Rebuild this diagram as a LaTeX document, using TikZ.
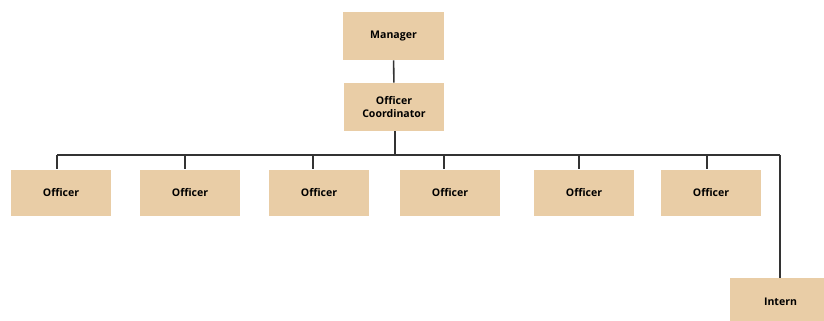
\documentclass[tikz,border=0pt]{standalone}
\usepackage{fontspec}
\setmainfont{Open Sans}
\definecolor{boxtan}{HTML}{E9CDA6}
\definecolor{linkgray}{HTML}{333333}
\begin{document}
\begin{tikzpicture}[
    x=0.025cm, y=-0.025cm,
    role/.style={rectangle, fill=boxtan, minimum width=2.5cm,
                 minimum height=1.2cm, align=center, inner sep=2pt,
                 font=\fontsize{7.5}{9}\selectfont\bfseries},
    officer/.style={role, minimum height=1.17cm},
    link/.style={draw=linkgray, line width=1.1pt}
]
\useasboundingbox (0,0) rectangle (824,321);
\clip (0,0) rectangle (824,321);

% Rollen
\node[role] (mgr)   at (393.5,36) {Manager};
\node[role] (coord) at (394,107)  {Officer\\Coordinator};

\node[officer] (o1) at (61,193)  {Officer};
\node[officer] (o2) at (190,193) {Officer};
\node[officer] (o3) at (319,193) {Officer};
\node[officer] (o4) at (450,193) {Officer};
\node[officer] (o5) at (584,193) {Officer};
\node[officer] (o6) at (711,193) {Officer};

\node[role] (intern) at (780.5,302) {Intern};

% Bus
\coordinate (busL) at (57,155);
\coordinate (busR) at (780,155);
\coordinate (busM) at (395,155);

% Verbindungen
\draw[link] (mgr) -- (coord);
\draw[link] (coord.south -| busM) -- (busM);
\draw[link] (busL) -- (busR);

\foreach \dx/\o in {57/o1, 185/o2, 313/o3, 444/o4, 579/o5, 707/o6} {
    \coordinate (d-\o) at (\dx,155);
    \draw[link] (d-\o) -- (d-\o |- \o.north);
}

\draw[link] (busR) -- (busR |- intern.north);

\end{tikzpicture}
\end{document}
